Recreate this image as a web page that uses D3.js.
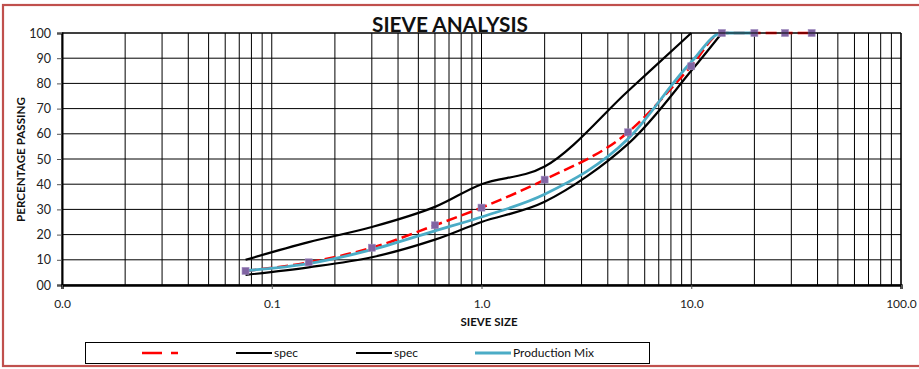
<!DOCTYPE html>
<html>
<head>
<meta charset="utf-8">
<script src="https://cdn.jsdelivr.net/npm/d3@7"></script>
<style>
  html, body { margin: 0; padding: 0; background: #fff; overflow: hidden; }
  svg { display: block; font-family: Lato, "Open Sans", "Liberation Sans", sans-serif; }
</style>
</head>
<body>
<svg id="chart" width="919" height="369"></svg>
<script>
// Sieve sizes (mm) and percentage passing for each curve
const sieveSizes = [0.075, 0.15, 0.3, 0.6, 1.0, 2.0, 5.0, 10.0, 14.0, 20.0, 28.0, 37.5];
const jobMix = [5.6, 9.0, 14.8, 23.7, 30.7, 41.8, 60.6, 86.8, 100, 100, 100, 100];

const specUpperSizes = [0.075, 0.15, 0.3, 0.6, 1.0, 2.0, 5.0, 10.0];
const specUpper = [10, 17, 23, 31, 40, 47, 77, 100];

const specLowerSizes = [0.075, 0.15, 0.3, 0.6, 1.0, 2.0, 5.0, 10.0, 14.0];
const specLower = [4, 7, 11, 18, 25, 33, 56, 85, 100];

const productionSizes = [0.075, 0.15, 0.3, 0.6, 1.0, 2.0, 5.0, 10.0, 14.0, 20.0];
const productionMix = [5.7, 8.5, 14.0, 21.5, 27.0, 36.0, 58.0, 88.5, 100, 100];

const xTickValues = [0.01, 0.1, 1, 10, 100];
const yTickValues = [0, 10, 20, 30, 40, 50, 60, 70, 80, 90, 100];
const legendLabels = ["", "spec", "spec", "Production Mix"];

const svg = d3.select("#chart");
const plot = { left: 62, right: 901, top: 33, bottom: 285 };

const x = d3.scaleLog().domain([0.01, 100]).range([plot.left, plot.right]);
const y = d3.scaleLinear().domain([0, 100]).range([plot.bottom, plot.top]);

// Outer frame (right edge runs past the page edge)
svg.append("rect")
  .attr("x", 3).attr("y", 5).attr("width", 920).attr("height", 361)
  .attr("fill", "#fff").attr("stroke", "#c0504d").attr("stroke-width", 2.2);

// Minor / major vertical gridlines on the log axis
const vGrid = [];
[0.01, 0.1, 1, 10].forEach(d => { for (let k = 1; k <= 9; k++) vGrid.push(d * k); });
vGrid.push(100);
svg.append("g").selectAll("line").data(vGrid).join("line")
  .attr("x1", d => x(d)).attr("x2", d => x(d))
  .attr("y1", plot.top).attr("y2", plot.bottom)
  .attr("stroke", "#000").attr("stroke-width", 1);

// Horizontal gridlines
svg.append("g").selectAll("line").data(yTickValues).join("line")
  .attr("x1", plot.left).attr("x2", plot.right)
  .attr("y1", d => y(d)).attr("y2", d => y(d))
  .attr("stroke", "#000").attr("stroke-width", 1);

// Y axis
const yAxis = svg.append("g").attr("transform", `translate(${plot.left},0)`)
  .call(d3.axisLeft(y).tickValues(yTickValues).tickFormat(d3.format("02d")).tickSizeOuter(0).tickSize(5).tickPadding(6));
yAxis.select(".domain").attr("stroke", "#000").attr("stroke-width", 2);
yAxis.selectAll(".tick line").attr("stroke", "#555");
yAxis.selectAll("text").attr("font-size", 12.5).attr("fill", "#222").attr("font-family", "Lato, sans-serif");

// X axis
const xAxis = svg.append("g").attr("transform", `translate(0,${plot.bottom})`)
  .call(d3.axisBottom(x).tickValues(xTickValues).tickFormat(d3.format(".1f")).tickSizeOuter(0).tickSize(4).tickPadding(10));
xAxis.select(".domain").attr("stroke", "#000").attr("stroke-width", 2.4);
xAxis.selectAll(".tick line").attr("stroke", "#555");
xAxis.selectAll("text").attr("font-size", 12).attr("fill", "#222").attr("font-family", "Lato, sans-serif");

// Line generators (log x, smoothed)
const lineOf = (sizes, values, curve) => d3.line()
  .x((d, i) => x(sizes[i])).y(d => y(d))
  .curve(curve)(values);
const specCurve = d3.curveCatmullRom.alpha(0.5);
const mixCurve = d3.curveMonotoneX;

const curves = svg.append("g");
curves.append("path").attr("d", lineOf(specUpperSizes, specUpper, specCurve))
  .attr("fill", "none").attr("stroke", "#000").attr("stroke-width", 2.2);
curves.append("path").attr("d", lineOf(specLowerSizes, specLower, specCurve))
  .attr("fill", "none").attr("stroke", "#000").attr("stroke-width", 2.2);
curves.append("path").attr("d", lineOf(sieveSizes, jobMix, mixCurve))
  .attr("fill", "none").attr("stroke", "#ff0000").attr("stroke-width", 2.5)
  .attr("stroke-dasharray", "11,5");
curves.append("path").attr("d", lineOf(productionSizes, productionMix, mixCurve))
  .attr("fill", "none").attr("stroke", "#4bacc6").attr("stroke-width", 2.8);

// Job mix markers
curves.selectAll("rect.marker").data(jobMix).join("rect")
  .attr("class", "marker")
  .attr("x", (d, i) => x(sieveSizes[i]) - 3.5)
  .attr("y", d => y(d) - 3.5)
  .attr("width", 7).attr("height", 7)
  .attr("fill", "#8064a2").attr("stroke", "#a08cc0").attr("stroke-width", 0.6);

// Top and right plot border
svg.append("line").attr("x1", plot.left).attr("x2", plot.right)
  .attr("y1", plot.top).attr("y2", plot.top).attr("stroke", "#000").attr("stroke-width", 1.2);
svg.append("line").attr("x1", plot.right).attr("x2", plot.right)
  .attr("y1", plot.top).attr("y2", plot.bottom).attr("stroke", "#000").attr("stroke-width", 1.2);

// Title
svg.append("text").attr("x", 450).attr("y", 32)
  .attr("text-anchor", "middle").attr("font-weight", "bold").attr("font-size", 21)
  .attr("textLength", 156).attr("lengthAdjust", "spacingAndGlyphs")
  .attr("fill", "#111").text("SIEVE ANALYSIS");

// Axis titles
svg.append("text").attr("transform", `translate(25,159.5) rotate(-90)`)
  .attr("text-anchor", "middle").attr("font-weight", "bold").attr("font-size", 11)
  .attr("textLength", 125).attr("lengthAdjust", "spacingAndGlyphs")
  .attr("fill", "#111").text("PERCENTAGE PASSING");
svg.append("text").attr("x", 489).attr("y", 326)
  .attr("text-anchor", "middle").attr("font-weight", "bold").attr("font-size", 11)
  .attr("textLength", 57).attr("lengthAdjust", "spacingAndGlyphs")
  .attr("fill", "#111").text("SIEVE SIZE");

// Legend
const legend = svg.append("g");
legend.append("rect").attr("x", 85.5).attr("y", 342.5).attr("width", 564).attr("height", 21)
  .attr("fill", "#fff").attr("stroke", "#000").attr("stroke-width", 1);
const legendItems = [
  { x0: 142, stroke: "#ff0000", dash: "20,9", width: 2.5 },
  { x0: 236, stroke: "#000", dash: null, width: 2.2 },
  { x0: 356, stroke: "#000", dash: null, width: 2.2 },
  { x0: 475, stroke: "#4bacc6", dash: null, width: 2.8 }
];
legendItems.forEach((it, i) => {
  legend.append("line").attr("x1", it.x0).attr("x2", it.x0 + 36)
    .attr("y1", 353).attr("y2", 353)
    .attr("stroke", it.stroke).attr("stroke-width", it.width)
    .attr("stroke-dasharray", it.dash);
  legend.append("text").attr("x", it.x0 + 38).attr("y", 357)
    .attr("font-size", 12).attr("fill", "#111").text(legendLabels[i]);
});
</script>
</body>
</html>
